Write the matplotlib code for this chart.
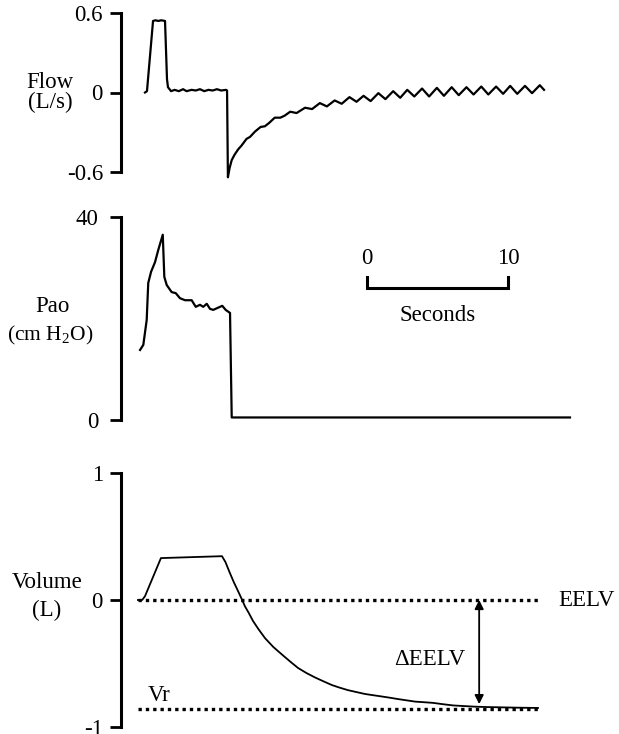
import matplotlib
matplotlib.use('Agg')
import matplotlib.pyplot as plt

plt.rcParams['font.family'] = ['Liberation Serif', 'DejaVu Serif']
plt.rcParams['mathtext.fontset'] = 'custom'
plt.rcParams['mathtext.rm'] = 'Liberation Serif'

# --- data (time in seconds) ---
flow_t = [0.00, 0.14, 0.57, 0.75, 0.95, 1.15, 1.42, 1.56, 1.63, 1.85, 2.1, 2.4, 2.7,
          2.95, 3.3, 3.6, 3.9, 4.2, 4.5, 4.8, 5.1, 5.4, 5.75, 5.82, 5.88,
          6.0, 6.15, 6.35, 6.6, 6.85, 7.2, 7.45, 7.8, 8.2, 8.5, 8.8, 9.2, 9.6, 9.9,
          10.3, 10.75, 11.35, 11.85, 12.4, 12.9, 13.45, 13.95, 14.5, 15.0, 15.5, 16.0,
          16.55, 17.05, 17.6, 18.1, 18.6, 19.1, 19.65, 20.15, 20.7, 21.2, 21.75, 22.25,
          22.8, 23.3, 23.85, 24.35, 24.9, 25.4, 25.9, 26.4, 26.95, 27.45, 28.0, 28.3]
flow_v = [0.00, 0.01, 0.54, 0.545, 0.54, 0.545, 0.54, 0.10, 0.04, 0.01, 0.02, 0.01, 0.025,
          0.01, 0.02, 0.015, 0.025, 0.01, 0.02, 0.015, 0.025, 0.015, 0.02, 0.015, -0.64,
          -0.57, -0.51, -0.47, -0.43, -0.40, -0.35, -0.335, -0.295, -0.26, -0.255, -0.23,
          -0.19, -0.19, -0.175, -0.145, -0.155, -0.115, -0.125, -0.08, -0.105, -0.06,
          -0.085, -0.035, -0.07, -0.025, -0.065, -0.005, -0.05, 0.01, -0.04, 0.02, -0.03,
          0.03, -0.03, 0.035, -0.025, 0.04, -0.02, 0.04, -0.015, 0.045, -0.015, 0.045,
          -0.01, 0.05, -0.01, 0.05, -0.005, 0.055, 0.02]

pao_t = [-0.35, -0.12, 0.12, 0.23, 0.43, 0.71, 0.94, 1.26, 1.37, 1.54, 1.89, 2.18, 2.48,
         2.84, 3.31, 3.60, 3.90, 4.13, 4.38, 4.61, 4.84, 5.16, 5.48, 5.72, 6.03, 6.15, 30.14]
pao_v = [13.8, 14.8, 19.7, 27.0, 29.2, 31.1, 33.5, 36.5, 28.2, 26.6, 25.2, 25.0, 24.0,
         23.6, 23.6, 22.3, 22.7, 22.3, 22.9, 21.9, 21.7, 22.1, 22.5, 21.7, 21.1, 0.5, 0.5]

vol_t = [-0.5, -0.2, 0.0, 1.13, 5.46, 5.7, 6.03, 6.3, 6.60, 6.85, 7.09, 7.35, 7.66, 8.05,
         8.51, 9.1, 9.72, 10.3, 10.85, 11.45, 12.06, 12.65, 13.26, 13.8, 14.40, 15.0,
         15.60, 16.2, 16.81, 17.4, 17.94, 18.55, 19.15, 19.8, 20.43, 21.1, 21.84, 22.6,
         23.40, 24.3, 25.18, 26.5, 27.87]
vol_v = [0.0, 0.0, 0.03, 0.33, 0.345, 0.30, 0.21, 0.14, 0.07, 0.01, -0.05, -0.10, -0.165,
         -0.23, -0.30, -0.37, -0.43, -0.485, -0.535, -0.575, -0.61, -0.64, -0.67, -0.69,
         -0.71, -0.725, -0.74, -0.75, -0.76, -0.77, -0.78, -0.79, -0.80, -0.805, -0.81,
         -0.82, -0.83, -0.835, -0.84, -0.843, -0.845, -0.848, -0.85]

eelv = 0.0
vr = -0.86
line_span = [-0.5, 28.0]

# --- layout helpers (pixel boxes) ---
W, H = 619, 734
fig = plt.figure(figsize=(W / 100, H / 100), dpi=100)

def box(x0, ytop, x1, ybot):
    return [x0 / W, 1 - ybot / H, (x1 - x0) / W, (ybot - ytop) / H]

XL = ((121 - 145) / 14.1, (580 - 145) / 14.1)
FS = 16.5

def style(ax, ticks, labels, ylim, pad=5):
    ax.set_xlim(XL)
    ax.set_ylim(ylim)
    for s in ['top', 'right', 'bottom']:
        ax.spines[s].set_visible(False)
    ax.spines['left'].set_linewidth(2.2)
    ax.set_xticks([])
    ax.set_yticks(ticks)
    ax.set_yticklabels(labels)
    ax.tick_params(axis='y', direction='out', length=8, width=2, labelsize=FS, pad=pad)
    ax.patch.set_alpha(0)

ax1 = fig.add_axes(box(121, 13, 580, 172))
ax2 = fig.add_axes(box(121, 217, 580, 420))
ax3 = fig.add_axes(box(121, 473, 580, 727))

# Flow
style(ax1, [-0.6, 0, 0.6], ['-0.6', '0', '0.6'], (-0.6, 0.6))
ax1.plot(flow_t, flow_v, color='k', lw=1.6, clip_on=False)
fig.text(50 / W, 1 - 82 / H, 'Flow', ha='center', va='center', fontsize=FS)
fig.text(50 / W, 1 - 102 / H, '(L/s)', ha='center', va='center', fontsize=FS)

# Pao
style(ax2, [0, 40], ['0', '40'], (0, 40), pad=8)
ax2.plot(pao_t, pao_v, color='k', lw=1.6, clip_on=False)
fig.text(52 / W, 1 - 307 / H, 'Pao', ha='center', va='center', fontsize=FS)
fig.text(50 / W, 1 - 335 / H, r'(cm H$_\mathrm{2}$O)', ha='center', va='center',
         fontsize=15.5)

# time scale bar
sb0 = 15.74
ax2.plot([sb0, sb0, sb0 + 10, sb0 + 10], [28.2, 26.0, 26.0, 28.2], color='k', lw=2.2,
         solid_joinstyle='miter')
ax2.text(sb0, 31.9, '0', ha='center', va='center', fontsize=FS)
ax2.text(sb0 + 10, 31.9, '10', ha='center', va='center', fontsize=FS)
ax2.text(sb0 + 5, 20.5, 'Seconds', ha='center', va='center', fontsize=FS)

# Volume
style(ax3, [-1, 0, 1], ['-1', '0', '1'], (-1, 1))
ax3.plot(line_span, [eelv, eelv], color='k', lw=2.4, ls=(0, (1, 1.2)))
ax3.plot(line_span, [vr, vr], color='k', lw=2.4, ls=(0, (1, 1.2)))
ax3.plot(vol_t, vol_v, color='k', lw=1.3)
ax3.annotate('', xy=(23.7, eelv), xytext=(23.7, -0.82),
             arrowprops=dict(arrowstyle='<|-|>', lw=1.3, color='k', mutation_scale=13,
                             shrinkA=0, shrinkB=0))
ax3.text((558 - 145) / 14.1, eelv, 'EELV', ha='left', va='center', fontsize=FS)
ax3.text((465 - 145) / 14.1, -0.47, '\u0394EELV', ha='right', va='center', fontsize=FS)
ax3.text(0.2, -0.75, 'Vr', ha='left', va='center', fontsize=FS)
fig.text(47 / W, 1 - 582 / H, 'Volume', ha='center', va='center', fontsize=FS)
fig.text(47 / W, 1 - 610 / H, '(L)', ha='center', va='center', fontsize=FS)

fig.savefig('out.png', dpi=100)
